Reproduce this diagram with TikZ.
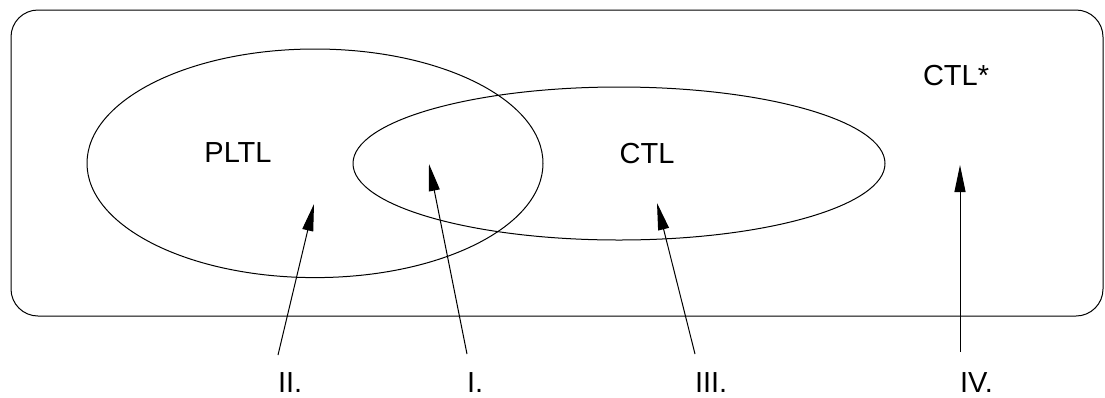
\documentclass[tikz,border=0pt]{standalone}
\usepackage{fontspec}
\setmainfont{Liberation Sans}
\usetikzlibrary{arrows.meta,shapes.geometric}
\begin{document}
\begin{tikzpicture}[x=1pt,y=-1pt,
  every node/.style={inner sep=0pt, outer sep=0pt},
  lbl/.style={font=\fontsize{29}{34}\selectfont},
  region/.style={draw, line width=1pt},
  pointer/.style={line width=1pt, -{Triangle[length=27pt,width=11pt]}}]
\useasboundingbox (0,0) rectangle (1105,397);
% universe box
\node[region, rectangle, rounded corners=27pt, minimum width=1092pt, minimum height=306pt] (ctlstar) at (557,163) {};
% ellipses
\node[region, ellipse, minimum width=456pt, minimum height=228.6pt] (pltl) at (315,163.3) {};
\node[region, ellipse, minimum width=532pt, minimum height=153pt] (ctl) at (619,163.5) {};
% texts
\node[lbl] (tpltl) at (238,153) {PLTL};
\node[lbl] (tctl) at (647,153.5) {CTL};
\node[lbl, anchor=base west] (tstar) at (923,85) {CTL*};
% labels
\node[lbl, anchor=base west] (l2) at (278,392) {II.};
\node[lbl, anchor=base west] (l1) at (467,392) {I.};
\node[lbl, anchor=base west] (l3) at (695,392) {III.};
\node[lbl, anchor=base west] (l4) at (960,392) {IV.};
% arrow ends
\coordinate (b2) at (278,355);
\coordinate (t2) at (314,204);
\coordinate (b1) at (467,354);
\coordinate (t1) at (429,164);
\coordinate (b3) at (695,354);
\coordinate (t3) at (657,203);
\coordinate (b4) at (960,352);
\coordinate (t4) at (960,165);
\draw[pointer] (b2) -- (t2);
\draw[pointer] (b1) -- (t1);
\draw[pointer] (b3) -- (t3);
\draw[pointer] (b4) -- (t4);
\end{tikzpicture}
\end{document}
